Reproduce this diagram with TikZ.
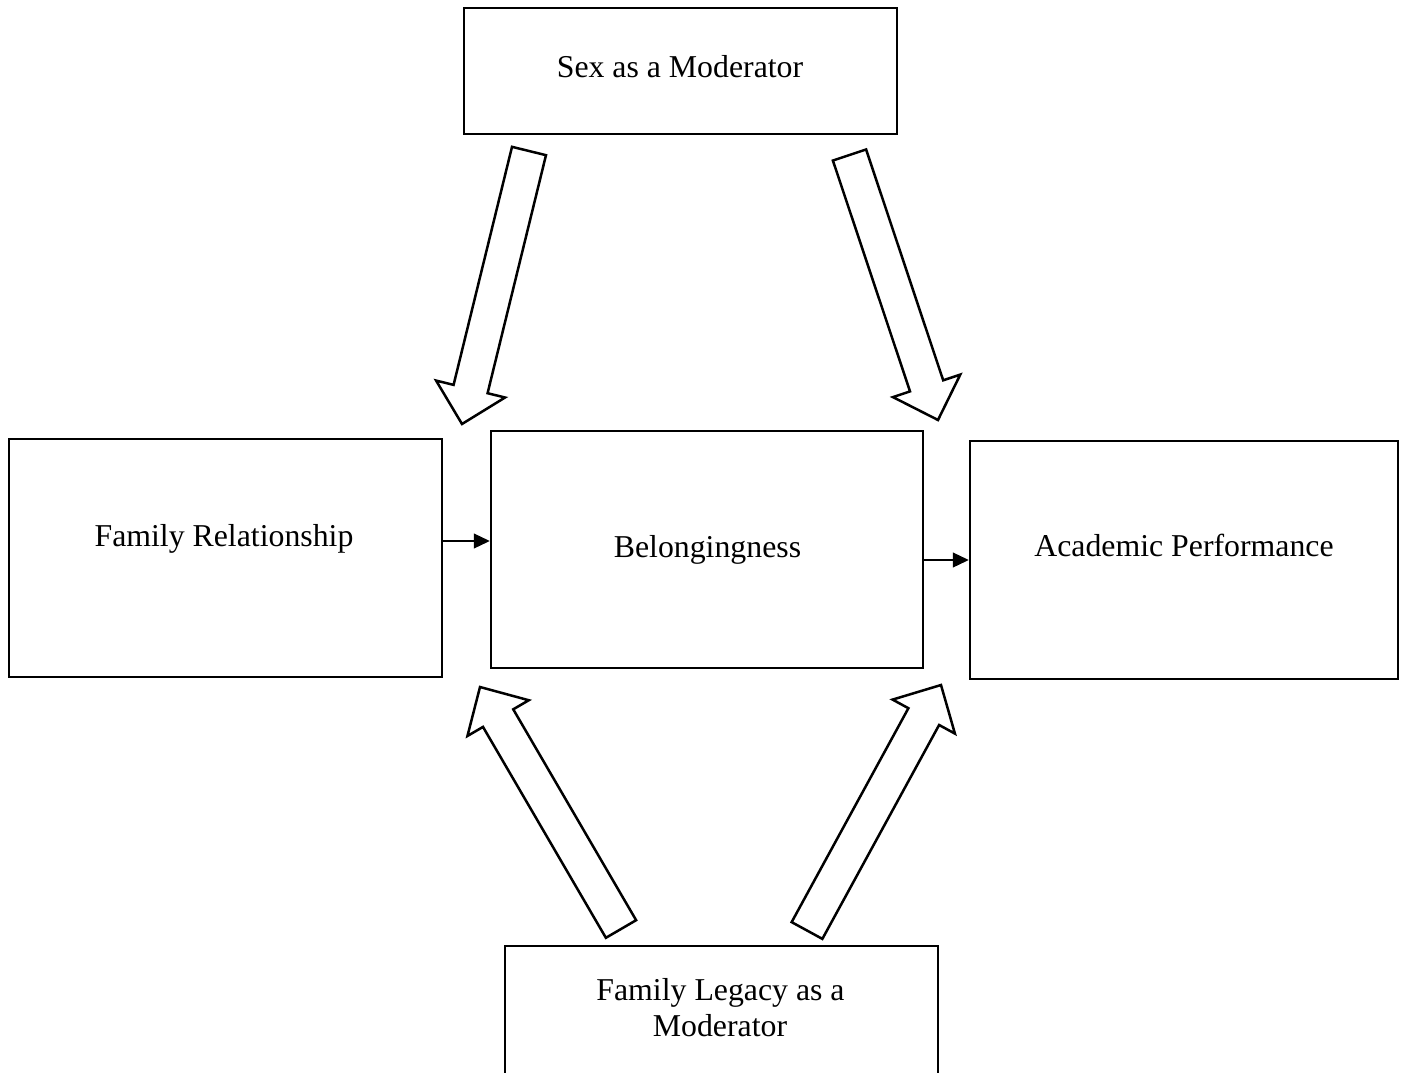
\documentclass[tikz,border=0pt]{standalone}
\usepackage{fontspec}
\setmainfont{Liberation Serif}
\usetikzlibrary{arrows.meta,calc}

% hollow block arrow from tail centre #1 to tip #2
\newcommand{\hollowarrow}[2]{%
  \coordinate (hb) at ($(#2)!36pt!(#1)$);
  \draw[hollow] ($(#1)!17.5pt!90:(#2)$) -- ($(hb)!17.5pt!90:(#2)$) -- ($(hb)!35.5pt!90:(#2)$)
    -- (#2) -- ($(hb)!35.5pt!-90:(#2)$) -- ($(hb)!17.5pt!-90:(#2)$) -- ($(#1)!17.5pt!-90:(#2)$) -- cycle;}

\begin{document}
\begin{tikzpicture}[x=1pt, y=-1pt,
  box/.style={draw, line width=2.5pt, inner sep=0pt},
  lbl/.style={font=\fontsize{31.8pt}{36pt}\selectfont, inner sep=0pt, anchor=base},
  flow/.style={-{Triangle[length=16pt,width=15pt]}, line width=1.2pt},
  hollow/.style={draw, line width=2.5pt, line join=miter}]
  \useasboundingbox (0,0) rectangle (1403,1073);
  \clip (0,0) rectangle (1403,1073);

  % boxes
  \node[box, minimum width=433pt, minimum height=126pt] (sex) at (680.5,71) {};
  \node[box, minimum width=433pt, minimum height=238pt] (fam) at (225.5,558) {};
  \node[box, minimum width=432pt, minimum height=237pt] (bel) at (707,549.5) {};
  \node[box, minimum width=428pt, minimum height=238pt] (acad) at (1184,560) {};
  \node[box, minimum width=433pt, minimum height=150pt] (leg) at (721.5,1021) {};

  % texts
  \node[lbl] (sexlbl) at (680,77.3) {Sex as a Moderator};
  \node[lbl] (famlbl) at (224,546.7) {Family Relationship};
  \node[lbl] (bellbl) at (707.5,557.3) {Belongingness};
  \node[lbl] (acadlbl) at (1184,556) {Academic Performance};
  \node[lbl] (leglbla) at (720.5,1000) {Family Legacy as a};
  \node[lbl] (leglblb) at (720,1036) {Moderator};

  % direct paths
  \coordinate (fr) at ([yshift=17pt]fam.east);
  \draw[flow] (fr) -- (fr -| bel.west);
  \coordinate (br) at ([yshift=-10.5pt]bel.east);
  \draw[flow] (br) -- (br -| acad.west);

  % moderator arrows
  \coordinate (s1) at (529,151);   \coordinate (t1) at (462,424);
  \coordinate (s2) at (849.5,155); \coordinate (t2) at (938,420);
  \coordinate (s3) at (621,929);   \coordinate (t3) at (480,687);
  \coordinate (s4) at (807,930.5); \coordinate (t4) at (941,685);
  \hollowarrow{s1}{t1}
  \hollowarrow{s2}{t2}
  \hollowarrow{s3}{t3}
  \hollowarrow{s4}{t4}
\end{tikzpicture}
\end{document}
